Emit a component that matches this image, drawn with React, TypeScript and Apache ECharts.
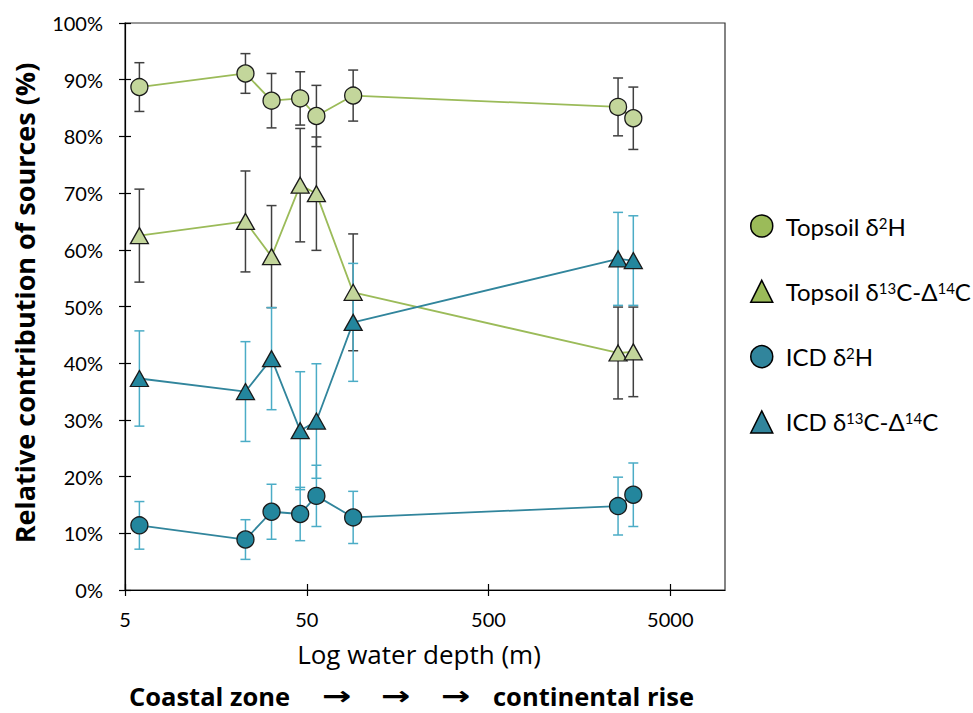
import React, { useEffect, useRef } from "react";
import * as echarts from "echarts";

// Water depth (m) of each station
const depths = [6, 23, 32, 46, 56.5, 90, 2580, 3130];

// Relative contribution (%) and error (±%)
const topsoilH = [88.7, 91.1, 86.3, 86.7, 83.6, 87.2, 85.2, 83.2];
const topsoilHErr = [4.3, 3.5, 4.8, 4.7, 5.4, 4.5, 5.1, 5.5];
const topsoilC = [62.5, 65.0, 58.8, 71.4, 69.9, 52.5, 41.8, 42.0];
const topsoilCErr = [8.2, 8.9, 9.0, 10.0, 10.0, 10.3, 8.1, 7.9];
const icdH = [11.4, 8.9, 13.8, 13.4, 16.6, 12.8, 14.8, 16.8];
const icdHErr = [4.2, 3.5, 4.85, 4.7, 5.4, 4.6, 5.1, 5.6];
const icdC = [37.3, 35.0, 40.8, 28.1, 29.8, 47.2, 58.4, 58.1];
const icdCErr = [8.4, 8.8, 9.0, 10.4, 10.1, 10.4, 8.2, 7.9];

const xTickLabels = [5, 50, 500, 5000];
const xMinDepth = 5;
const xMaxDepth = 10000;
const yTicks = [0, 10, 20, 30, 40, 50, 60, 70, 80, 90, 100];

const seriesNames = ["Topsoil δ2H", "Topsoil δ13C-Δ14C", "ICD δ2H", "ICD δ13C-Δ14C"];
const richNames: Record<string, string> = {
  "Topsoil δ2H": "{t|Topsoil δ}{s|2}{t|H}",
  "Topsoil δ13C-Δ14C": "{t|Topsoil δ}{s|13}{t|C-Δ}{s|14}{t|C}",
  "ICD δ2H": "{t|ICD δ}{s|2}{t|H}",
  "ICD δ13C-Δ14C": "{t|ICD δ}{s|13}{t|C-Δ}{s|14}{t|C}",
};

const FONT = "Lato, sans-serif";
const TITLE_FONT = "Open Sans, sans-serif";
const GREEN_LINE = "#9BBB59";
const GREEN_FILL = "#C3D69B";
const BLUE_LINE = "#31859C";
const BLUE_FILL = "#23869D";
const BLACK_ERR = "#404040";
const BLUE_ERR = "#4BACC6";

const lx = (d: number) => Math.log10(d / xMinDepth);

function errSeries(vals: number[], errs: number[], color: string, name: string) {
  return {
    type: "custom",
    name,
    z: 1,
    clip: false,
    silent: true,
    encode: { x: 0, y: [1, 2] },
    data: depths.map((d, i) => [lx(d), vals[i] + errs[i], vals[i] - errs[i]]),
    renderItem: (params: any, api: any) => {
      const hi = api.coord([api.value(0), api.value(1)]);
      const lo = api.coord([api.value(0), api.value(2)]);
      const w = 5;
      const style = { stroke: color, lineWidth: 1.5 };
      return {
        type: "group",
        children: [
          { type: "line", shape: { x1: hi[0], y1: hi[1], x2: lo[0], y2: lo[1] }, style },
          { type: "line", shape: { x1: hi[0] - w, y1: hi[1], x2: hi[0] + w, y2: hi[1] }, style },
          { type: "line", shape: { x1: lo[0] - w, y1: lo[1], x2: lo[0] + w, y2: lo[1] }, style },
        ],
      };
    },
  };
}

function lineSeries(name: string, vals: number[], symbol: string, size: any, fill: string, line: string) {
  return {
    type: "line",
    name,
    z: 3,
    data: depths.map((d, i) => [lx(d), vals[i]]),
    symbol,
    symbolSize: size,
    showAllSymbol: true,
    lineStyle: { color: line, width: 1.8 },
    itemStyle: { color: fill, borderColor: "#1a1a1a", borderWidth: 1.3 },
    emphasis: { disabled: true },
  };
}

function txt(x: number, y: number, text: string, font: string, size: number, bold: boolean, align: string, rot = 0, sx = 1) {
  return {
    type: "text",
    x,
    y,
    rotation: rot,
    scaleX: sx,
    style: {
      text,
      fontFamily: font,
      fontSize: size,
      fontWeight: bold ? "bold" : "normal",
      fill: "#000",
      align,
      verticalAlign: "middle",
      textAlign: align,
      textVerticalAlign: "middle",
    },
  };
}

export default function App() {
  const ref = useRef<HTMLDivElement>(null);
  useEffect(() => {
    if (!ref.current) return;
    const chart = echarts.init(ref.current, undefined, { renderer: "svg" });
    const xMax = lx(xMaxDepth);
    const xTickVals = xTickLabels.map(lx);
    const option: any = {
      animation: false,
      backgroundColor: "#fff",
      grid: {
        left: 125,
        right: 248,
        top: 23,
        bottom: 123,
        show: true,
        borderColor: "#333",
        borderWidth: 1.2,
        backgroundColor: "transparent",
      },
      xAxis: [
        {
          type: "value",
          min: 0,
          max: xMax,
          interval: 1,
          axisLine: { show: true, lineStyle: { color: "#000", width: 1.2 } },
          axisTick: { show: true, length: 6, customValues: xTickVals, lineStyle: { color: "#000", width: 1.2 } },
          axisLabel: {
            customValues: xTickVals,
            margin: 19,
            fontFamily: FONT,
            fontSize: 20,
            color: "#000",
            formatter: (v: number) => String(Math.round(xMinDepth * Math.pow(10, v))),
          },
          splitLine: { show: false },
        },
        {
          type: "value",
          position: "bottom",
          min: 0,
          max: xMax,
          interval: 1,
          axisLine: { show: false },
          axisTick: { show: true, inside: true, length: 6, customValues: xTickVals, lineStyle: { color: "#000", width: 1.2 } },
          axisLabel: { show: false },
          splitLine: { show: false },
        },
      ],
      yAxis: [
        {
          type: "value",
          min: 0,
          max: 100,
          interval: 10,
          axisLine: { show: true, lineStyle: { color: "#000", width: 1.2 } },
          axisTick: { show: true, length: 6, lineStyle: { color: "#000", width: 1.2 } },
          axisLabel: {
            margin: 22,
            fontFamily: FONT,
            fontSize: 20,
            color: "#000",
            formatter: (v: number) => (yTicks.includes(v) ? v + "%" : ""),
          },
          splitLine: { show: false },
        },
        {
          type: "value",
          position: "left",
          min: 0,
          max: 100,
          interval: 10,
          axisLine: { show: false },
          axisTick: { show: true, inside: true, length: 6, lineStyle: { color: "#000", width: 1.2 } },
          axisLabel: { show: false },
          splitLine: { show: false },
        },
      ],
      legend: {
        orient: "vertical",
        left: 750,
        top: 214,
        padding: 0,
        itemWidth: 22,
        itemHeight: 22,
        itemGap: 41.3,
        selectedMode: false,
        data: [
          { name: seriesNames[0], icon: "circle", itemStyle: { color: GREEN_LINE, borderColor: "#000", borderWidth: 1.5 } },
          { name: seriesNames[1], icon: "triangle", itemStyle: { color: GREEN_LINE, borderColor: "#000", borderWidth: 1.5 } },
          { name: seriesNames[2], icon: "circle", itemStyle: { color: BLUE_LINE, borderColor: "#000", borderWidth: 1.5 } },
          { name: seriesNames[3], icon: "triangle", itemStyle: { color: BLUE_LINE, borderColor: "#000", borderWidth: 1.5 } },
        ],
        formatter: (name: string) => richNames[name] || name,
        textStyle: {
          fontFamily: FONT,
          fontSize: 24,
          color: "#000",
          padding: [0, 0, 0, 8],
          rich: {
            t: { fontFamily: FONT, fontSize: 24, color: "#000", lineHeight: 22 },
            s: { fontFamily: FONT, fontSize: 15, color: "#000", verticalAlign: "top", lineHeight: 14 },
          },
        },
      },
      graphic: [
        txt(24, 303, "Relative contribution of sources (%)", TITLE_FONT, 27, true, "center", Math.PI / 2),
        txt(419, 654, "Log water depth (m)", TITLE_FONT, 26, false, "center"),
        txt(129, 696, "Coastal zone", TITLE_FONT, 25.5, true, "left"),
        ...[337, 396, 456].map((x) => txt(x, 696, "→", "DejaVu Sans, sans-serif", 26, true, "center", 0, 1.35)),
        txt(493, 696, "continental rise", TITLE_FONT, 25.5, true, "left"),
      ],
      series: [
        errSeries(topsoilH, topsoilHErr, BLACK_ERR, "err-topsoil-h"),
        errSeries(topsoilC, topsoilCErr, BLACK_ERR, "err-topsoil-c"),
        errSeries(icdH, icdHErr, BLUE_ERR, "err-icd-h"),
        errSeries(icdC, icdCErr, BLUE_ERR, "err-icd-c"),
        lineSeries(seriesNames[0], topsoilH, "circle", 17, GREEN_FILL, GREEN_LINE),
        lineSeries(seriesNames[1], topsoilC, "triangle", [18, 16], GREEN_FILL, GREEN_LINE),
        lineSeries(seriesNames[2], icdH, "circle", 17, BLUE_FILL, BLUE_LINE),
        lineSeries(seriesNames[3], icdC, "triangle", [18, 16], BLUE_FILL, BLUE_LINE),
      ],
    };
    chart.setOption(option);
    return () => chart.dispose();
  }, []);
  return (
    <div
      ref={ref}
      style={{ position: "fixed", left: 0, top: 0, width: 973, height: 713, background: "#fff" }}
    />
  );
}
